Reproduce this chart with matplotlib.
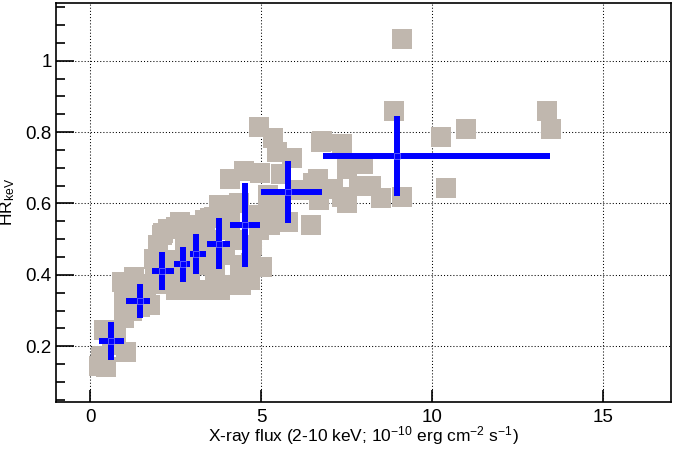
import matplotlib
matplotlib.use("Agg")
import matplotlib.pyplot as plt
from matplotlib.ticker import MultipleLocator

plt.rcParams['font.family'] = ['Liberation Sans', 'DejaVu Sans']
plt.rcParams['mathtext.fontset'] = 'custom'
plt.rcParams['mathtext.rm'] = 'Liberation Sans'
plt.rcParams['mathtext.it'] = 'Liberation Sans'

# Individual observations (gray squares)
flux = [9.12, 8.89, 10.26, 10.99, 13.36, 13.48, 10.41, 9.12, 8.51, 7.51,
        7.37, 6.78, 7.51, 7.98, 6.67, 7.87, 8.22, 6.70, 7.37, 7.11,
        6.46, 4.94, 5.35, 5.47, 5.91, 6.75, 4.50, 4.09, 4.97, 5.58,
        6.52, 3.77, 4.36, 3.51, 5.20, 5.58, 5.79, 6.14, 6.70, 4.91,
        4.94, 5.03, 4.71, 4.09, 3.42, 2.84, 0.26, 0.47, 1.05, 0.41,
        0.99, 1.46, 0.94, 1.29, 1.64, 1.87, 2.11, 1.99, 2.13, 2.28,
        2.51, 2.95, 3.63, 3.77, 4.42, 2.34, 2.63, 3.07, 3.36, 3.65,
        3.95, 4.24, 4.39, 3.22, 2.78, 2.05, 1.75, 0.64, 4.09, 5.20,
        2.51, 2.22, 4.74, 0.32, 0.76, 1.22, 1.40, 0.99, 1.75, 1.90,
        2.49, 2.92, 3.80, 4.68, 3.51, 4.09, 5.26, 2.63, 3.36, 1.20,
        0.35]
hr = [1.061, 0.859, 0.786, 0.808, 0.859, 0.808, 0.643, 0.618, 0.615, 0.601,
      0.766, 0.775, 0.696, 0.710, 0.668, 0.649, 0.649, 0.609, 0.618, 0.640,
      0.539, 0.814, 0.783, 0.744, 0.727, 0.772, 0.691, 0.668, 0.685, 0.682,
      0.657, 0.595, 0.601, 0.559, 0.581, 0.595, 0.548, 0.637, 0.612, 0.567,
      0.525, 0.421, 0.433, 0.371, 0.357, 0.357, 0.144, 0.141, 0.183, 0.245,
      0.279, 0.309, 0.380, 0.394, 0.363, 0.444, 0.511, 0.483, 0.517, 0.528,
      0.534, 0.539, 0.562, 0.581, 0.371, 0.441, 0.399, 0.427, 0.469, 0.413,
      0.455, 0.497, 0.427, 0.511, 0.483, 0.413, 0.316, 0.203, 0.567, 0.623,
      0.357, 0.374, 0.483, 0.170, 0.230, 0.300, 0.340, 0.330, 0.374, 0.413,
      0.427, 0.385, 0.357, 0.385, 0.497, 0.525, 0.539, 0.547, 0.553, 0.329,
      0.172]

# Binned averages (blue crosses), asymmetric flux ranges
bin_flux = [0.614, 1.462, 2.096, 2.71, 3.10, 3.763, 4.532, 5.79, 8.977]
bin_flux_lo = [0.351, 0.409, 0.284, 0.246, 0.167, 0.342, 0.439, 0.789, 2.164]
bin_flux_hi = [0.371, 0.292, 0.360, 0.213, 0.284, 0.330, 0.430, 0.994, 4.494]
bin_hr = [0.215, 0.327, 0.411, 0.429, 0.458, 0.487, 0.540, 0.633, 0.734]
bin_hr_err = [0.053, 0.047, 0.054, 0.050, 0.057, 0.0715, 0.117, 0.087, 0.112]

xticks = [0, 5, 10, 15]
yticks = [0.2, 0.4, 0.6, 0.8, 1.0]
ytick_labels = ['0.2', '0.4', '0.6', '0.8', '1']

fig = plt.figure(figsize=(6.73, 4.49), dpi=100)
ax = fig.add_axes([56/673, 1-401.7/449, 615/673, 399/449])

ax.plot(flux, hr, linestyle='none', marker='s', markersize=14.4,
        markerfacecolor='#c0b7ae', markeredgewidth=0, zorder=2)
ax.errorbar(bin_flux, bin_hr, xerr=[bin_flux_lo, bin_flux_hi], yerr=bin_hr_err,
            fmt='none', ecolor='#0000ff', elinewidth=4.3, capsize=0, zorder=3)
ax.plot(bin_flux, bin_hr, linestyle='none', marker='s', markersize=5,
        markerfacecolor='none', markeredgecolor='#9a9aff', markeredgewidth=0.4,
        zorder=4)

ax.set_xlim(-1, 17)
ax.set_ylim(0.0445, 1.1625)
ax.set_xticks(xticks)
ax.set_xticklabels([str(t) for t in xticks])
ax.set_yticks(yticks)
ax.set_yticklabels(ytick_labels)
ax.yaxis.set_minor_locator(MultipleLocator(0.05))

ax.grid(True, which='major', color='black', linestyle=(0, (1, 2)), linewidth=0.75)
for l in ax.get_xgridlines() + ax.get_ygridlines():
    l.set_zorder(1)

ax.tick_params(axis='both', which='major', direction='in', labelsize=13.5,
               color='black', width=1.2)
ax.tick_params(axis='x', which='major', length=9, pad=5)
ax.tick_params(axis='y', which='major', length=13, pad=3)
ax.tick_params(axis='y', which='minor', direction='in', length=6.5, width=1.2)
ax.tick_params(top=False, right=False)
for s in ax.spines.values():
    s.set_linewidth(1.2)
    s.set_zorder(5)

ax.set_xlabel(r'X-ray flux (2-10 keV; 10$^{-10}$ erg cm$^{-2}$ s$^{-1}$)', fontsize=12.5, labelpad=-1)
ax.set_ylabel(r'HR$_{\mathrm{keV}}$', fontsize=12.5, labelpad=6)

fig.savefig('out.png', dpi=100)
